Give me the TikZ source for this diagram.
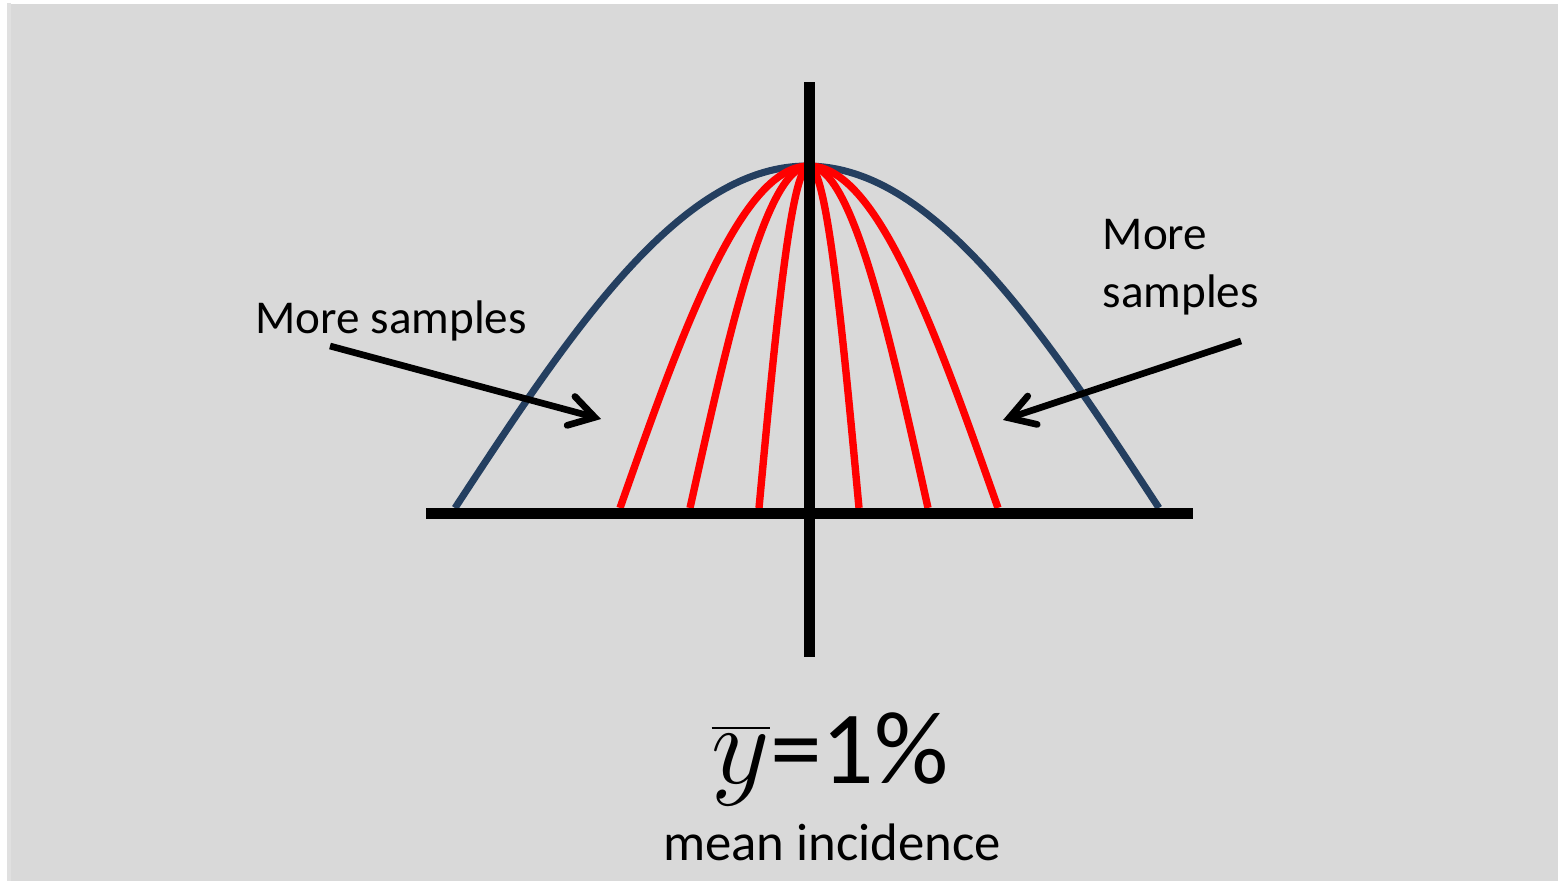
\documentclass[tikz,border=0pt]{standalone}
\usepackage{fontspec}
\usepackage{graphicx}
\setmainfont{Carlito}
\usetikzlibrary{arrows.meta}
\definecolor{Slide}{HTML}{D9D9D9}
\definecolor{Bell}{HTML}{243F60}
\definecolor{Narrow}{HTML}{FF0000}
\tikzset{
  axis/.style={black,line width=3.4pt},
  bell/.style={Bell,line width=2pt},
  narrow/.style={Narrow,line width=2.1pt},
  pointer/.style={black,line width=1.9pt,-{Straight Barb[length=7pt,width=8.5pt,line cap=round]}},
  label/.style={inner sep=0pt,font=\fontsize{13.4}{16.4}\selectfont}
}
\begin{document}
\begin{tikzpicture}[x=0.01cm,y=-0.01cm]
\useasboundingbox (0,0) rectangle (1558,881);
\fill[white] (0,0) rectangle (1558,881);
\fill[black!12] (7,3) rectangle (11,881);
\fill[Slide] (11,4) rectangle (1558,881);
\coordinate (xl) at (426,513.5);
\coordinate (xr) at (1193,513.5);
\coordinate (yt) at (809.5,82);
\coordinate (yb) at (809.5,657);
\draw[bell] plot[domain=-1:1,samples=80,smooth] ({807+352*\x},{166+342*(1-cos(90*\x))});
\foreach \w in {189,119,50}{
  \draw[narrow] plot[domain=-1:1,samples=80,smooth] ({809+\w*\x},{166+342*(1-cos(90*\x))});
}
\draw[axis] (xl) -- (xr);
\draw[axis] (yt) -- (yb);
\node[label,anchor=base west] (moreL) at (255,333) {More samples};
\node[label,anchor=base west,align=left] (moreR) at (1102,307) {More\\samples};
\coordinate (lfrom) at (330,346);
\coordinate (lto) at (601,419);
\coordinate (rfrom) at (1241,341);
\coordinate (rto) at (1003,420);
\draw[pointer] (lfrom) -- (lto);
\draw[pointer] (rfrom) -- (rto);
\node[inner sep=0pt,anchor=base,font=\fontsize{29.5}{34}\selectfont] (mean) at (830,783) {\scalebox{1.3}{$\overline{y}$}=1\%};
\node[inner sep=0pt,anchor=base,font=\fontsize{15}{18}\selectfont] (caption) at (832,860) {mean incidence};
\end{tikzpicture}
\end{document}
